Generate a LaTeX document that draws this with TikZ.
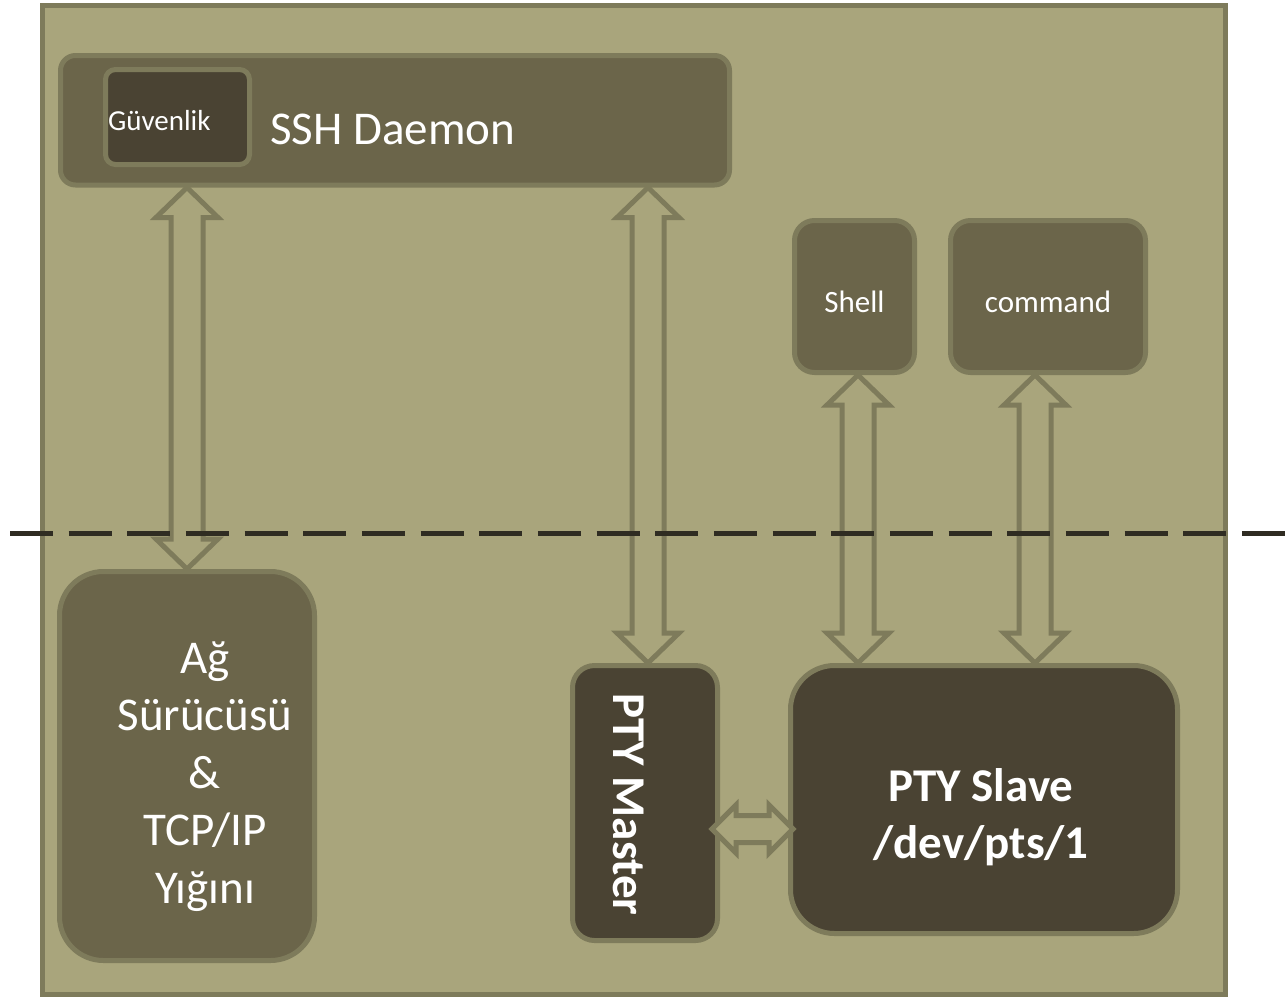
\documentclass[tikz,border=0pt]{standalone}
\usepackage{fontspec}
\setmainfont{Carlito}
\usepackage{tikz}
\usetikzlibrary{positioning, calc}

\definecolor{hostfill}{HTML}{A9A57C}
\definecolor{boxolive}{HTML}{6B654A}
\definecolor{darkolive}{HTML}{4A4333}
\definecolor{edgeolive}{HTML}{7E7B5B}
\definecolor{rulecolor}{HTML}{2F2C22}

% hollow two-headed arrows, top -> bottom and left -> right
\newcommand{\dualarrowv}[2]{%
  \draw[hollow] (#1) -- ++(31,30) -- ++(-15,0) -- ($(#2)+(16,-30)$) -- ++(15,0) -- (#2)
    -- ++(-31,-30) -- ++(15,0) -- ($(#1)+(-16,30)$) -- ++(-15,0) -- cycle;}
\newcommand{\dualarrowh}[2]{%
  \draw[hollow] (#1) -- ++(24,-24) -- ++(0,10.5) -- ($(#2)+(-24,-13.5)$) -- ++(0,-10.5) -- (#2)
    -- ++(-24,24) -- ++(0,-10.5) -- ($(#1)+(24,13.5)$) -- ++(0,10.5) -- cycle;}

\begin{document}
\begin{tikzpicture}[x=0.5pt, y=-0.5pt,
    box/.style={draw=edgeolive, line width=2.5pt, fill=boxolive, inner sep=0pt},
    darkbox/.style={box, fill=darkolive},
    smalltext/.style={text=white, text height=15.9pt, font=\fontsize{15.5}{19}\selectfont},
    bigtext/.style={text=white, inner sep=0pt, align=center, font=\fontsize{23.5}{28.7}\selectfont},
    boldtext/.style={bigtext, font=\fontsize{23.5}{28.7}\selectfont\bfseries},
    hollow/.style={draw=edgeolive, line width=2.5pt, fill=hostfill, line join=miter},
]
    \useasboundingbox (0,0) rectangle (1285,997);

    \node[box, fill=hostfill, minimum width=591.5pt, minimum height=494.5pt] (host) at (633.5,499.5) {};

    \node[box, rounded corners=7.5pt, minimum width=334.5pt, minimum height=64.75pt] (sshd) at (395,120.25) {};
    \node[darkbox, rounded corners=5pt, minimum height=47.5pt, text width=69.5pt, inner xsep=1.25pt,
          align=left, text=white, text height=14pt, font=\fontsize{14.5}{17}\selectfont] (guv) at (177.5,117) {Güvenlik};
    \node[bigtext, right=9pt of guv, yshift=-6.25pt] (sshtext) {SSH Daemon};

    \node[box, smalltext, rounded corners=10pt, minimum width=60pt, minimum height=76pt] (shell) at (854.5,296.5) {Shell};
    \node[box, smalltext, rounded corners=10pt, minimum width=97.5pt, minimum height=76pt] (cmd) at (1048,296.5) {command};

    \node[box, rounded corners=22pt, minimum width=127.5pt, minimum height=194.5pt] (ag) at (187,766) {};
    \node[bigtext] (agtext) at ($(ag.center)+(18,10.5)$) {Ağ\\Sürücüsü\\\&\\TCP/IP\\Yığını};

    \node[darkbox, rounded corners=11pt, minimum width=72.5pt, minimum height=137.5pt] (ptym) at (645,803) {};
    \node[boldtext, rotate=-90] (ptymtext) at ($(ptym.center)+(-16,1.5)$) {PTY Master};

    \node[darkbox, rounded corners=22pt, minimum width=193.5pt, minimum height=134pt] (ptys) at (984,799.5) {};
    \node[boldtext] (ptystext) at ($(ptys.center)+(-3,17.5)$) {PTY Slave\\/dev/pts/1};

    \coordinate (gtop) at (ag.north |- sshd.south);
    \coordinate (mbot) at ($(ptym.north)+(3,0)$);
    \coordinate (mtop) at (mbot |- sshd.south);
    \coordinate (stop) at ($(shell.south)+(3.5,0)$);
    \coordinate (sbot) at (stop |- ptys.north);
    \coordinate (ctop) at ($(cmd.south)+(-13,0)$);
    \coordinate (cbot) at (ctop |- ptys.north);
    \coordinate (hl) at ($(ptym.east)+(-8,26)$);
    \coordinate (hr0) at (hl -| ptys.west);
    \coordinate (hr) at ($(hr0)+(5,0)$);

    \dualarrowv{gtop}{ag.north}
    \dualarrowv{mtop}{mbot}
    \dualarrowv{stop}{sbot}
    \dualarrowv{ctop}{cbot}
    \dualarrowh{hl}{hr}

    \draw[rulecolor, line width=2.5pt, dash pattern=on 21.5pt off 7.83pt] (10,533) -- (1285,533);
\end{tikzpicture}
\end{document}
